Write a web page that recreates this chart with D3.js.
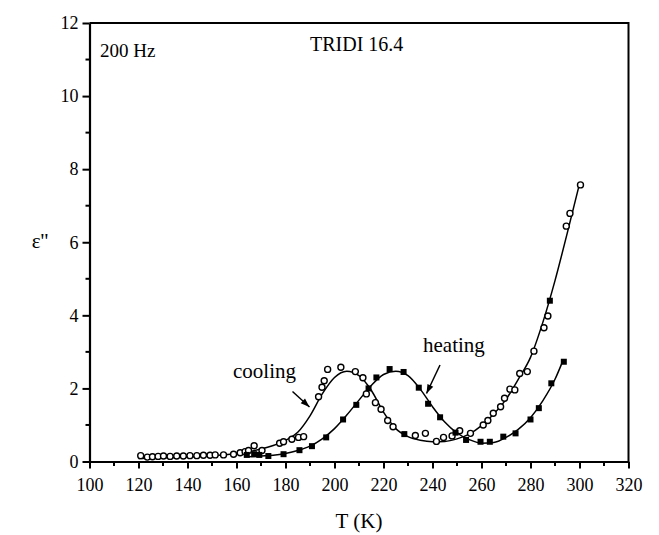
<!DOCTYPE html>
<html><head><meta charset="utf-8">
<script src="https://cdn.jsdelivr.net/npm/d3@7"></script>
<style>body{margin:0;background:#fff}svg{display:block}</style>
</head><body><svg id="c" width="659" height="535"></svg>
<script>
// ---- data ----
const coolingT = [120.9,123.6,125.7,128,130.2,132.9,135.6,138.3,141,143.8,146.5,149.2,151.3,154.7,158.8,161.5,163.5,164.9,167.2,170.4,177.6,179.2,182.6,185.3,187.4,193.5,194.9,195.8,197.2,202.6,208.5,211.6,213,216.7,219,221.7,223.9,233,237.1,241.6,244.5,248,251.1,255.5,260.7,262.6,264.8,267.8,269.4,271.6,273.6,275.6,278.7,281.4,285.5,287.1,294.6,296.1,300.4];
const coolingV = [0.16,0.12,0.13,0.14,0.15,0.14,0.15,0.15,0.16,0.16,0.17,0.17,0.18,0.18,0.2,0.24,0.27,0.3,0.43,0.3,0.5,0.54,0.61,0.66,0.68,1.77,2.03,2.21,2.52,2.58,2.46,2.29,1.85,1.61,1.43,1.12,0.95,0.71,0.77,0.55,0.66,0.7,0.84,0.77,1.0,1.12,1.32,1.5,1.73,1.98,1.96,2.41,2.46,3.02,3.66,3.98,6.44,6.79,7.57];
const heatingT = [164.2,167.2,169.3,173,179.2,185.7,190.8,196.6,203.5,208.9,213.9,217.1,222.5,228.2,234.4,238.2,243.1,249.4,253.7,259.6,263.4,268.9,273.9,280,283.4,288.5,293.6];
const heatingV = [0.18,0.2,0.18,0.15,0.2,0.31,0.42,0.66,1.15,1.55,2.0,2.3,2.53,2.45,2.02,1.58,1.21,0.79,0.59,0.54,0.54,0.68,0.77,1.15,1.46,2.14,2.73];
const extraSquareT = [228.5,287.9];
const extraSquareV = [0.75,4.4];
// fitted curves
const coolFitT = [120,130,140,150,160,165,170,175,180,185,190,195,200,205,210,215,220,225,230,235,240,245,250,255,260,265,270,275,280,285,290,295,300];
const coolFitV = [0.08,0.1,0.12,0.16,0.22,0.27,0.34,0.44,0.58,0.8,1.25,1.85,2.3,2.47,2.35,1.95,1.35,0.9,0.68,0.58,0.54,0.55,0.62,0.75,0.98,1.3,1.7,2.25,2.85,3.8,4.95,6.25,7.6];
const heatFitT = [165,170,175,180,185,190,195,200,205,210,215,220,225,230,235,240,245,250,255,260,265,270,275,280,285,290,293];
const heatFitV = [0.13,0.15,0.17,0.22,0.3,0.42,0.62,0.9,1.27,1.68,2.08,2.38,2.47,2.35,1.98,1.5,1.08,0.78,0.6,0.5,0.52,0.66,0.88,1.2,1.66,2.25,2.72];
const xTicks = [100,120,140,160,180,200,220,240,260,280,300,320];
const yTicks = [0,2,4,6,8,10,12];
const labels = {x:"T (K)", y:"ε''", freq:"200 Hz", sample:"TRIDI 16.4", cool:"cooling", heat:"heating"};

// ---- drawing ----
const FONT = "'Liberation Serif'";
const svg = d3.select("#c").style("font-family", FONT);
const x = d3.scaleLinear().domain([100,320]).range([89.5,628.5]);
const y = d3.scaleLinear().domain([0,12]).range([461.5,23]);

// minor ticks
const xMinor = d3.range(110,320,20), yMinor = d3.range(1,12,2);
svg.append("g").selectAll("line").data(xMinor).join("line")
  .attr("x1",d=>x(d)).attr("x2",d=>x(d)).attr("y1",y(0)).attr("y2",y(0)+4.5)
  .attr("stroke","#000").attr("stroke-width",2);
svg.append("g").selectAll("line").data(yMinor).join("line")
  .attr("y1",d=>y(d)).attr("y2",d=>y(d)).attr("x1",x(100)).attr("x2",x(100)-4)
  .attr("stroke","#000").attr("stroke-width",2);

const xa = svg.append("g").attr("transform",`translate(0,${y(0)})`)
  .call(d3.axisBottom(x).tickValues(xTicks).tickSize(7).tickSizeOuter(0).tickPadding(10));
const ya = svg.append("g").attr("transform",`translate(${x(100)},0)`)
  .call(d3.axisLeft(y).tickValues(yTicks).tickSize(7).tickSizeOuter(0).tickPadding(4));
[xa,ya].forEach(a=>{
  a.attr("font-family",null).attr("font-size",null);
  a.select(".domain").attr("stroke","#000").attr("stroke-width",2.2);
  a.selectAll(".tick line").attr("stroke","#000").attr("stroke-width",2);
  a.selectAll("text").style("font-family",FONT).style("font-size","18px").attr("fill","#000");
});
// frame top/right
svg.append("path").attr("d",`M${x(100)},${y(12)}H${x(320)}V${y(0)}`)
  .attr("fill","none").attr("stroke","#000").attr("stroke-width",2);

// fit lines
const line = d3.line().x(d=>x(d[0])).y(d=>y(d[1])).curve(d3.curveMonotoneX);
svg.append("path").datum(d3.zip(coolFitT,coolFitV)).attr("d",line)
  .attr("fill","none").attr("stroke","#000").attr("stroke-width",1.5);
svg.append("path").datum(d3.zip(heatFitT,heatFitV)).attr("d",line)
  .attr("fill","none").attr("stroke","#000").attr("stroke-width",1.5);

// points
svg.append("g").selectAll("circle").data(d3.zip(coolingT,coolingV)).join("circle")
  .attr("cx",d=>x(d[0])).attr("cy",d=>y(d[1])).attr("r",3)
  .attr("fill","#fff").attr("stroke","#000").attr("stroke-width",1.4);
const sq = 6;
svg.append("g").selectAll("rect").data(d3.zip(heatingT,heatingV).concat(d3.zip(extraSquareT,extraSquareV))).join("rect")
  .attr("x",d=>x(d[0])-sq/2).attr("y",d=>y(d[1])-sq/2).attr("width",sq).attr("height",sq)
  .attr("fill","#000");

// texts
function txt(xp,yp,size,s,anchor){
  return svg.append("text").attr("x",xp).attr("y",yp).attr("text-anchor",anchor||"start")
    .style("font-family",FONT).style("font-size",size+"px").attr("fill","#000").text(s);
}
txt(100,57,19,labels.freq);
txt(310,51,20,labels.sample);
txt(233,378,21,labels.cool);
txt(423,352,21,labels.heat);
txt(359,528,21,labels.x,"middle");
txt(40,248,21,labels.y,"middle");

// arrows
function arrow(x1,y1,x2,y2){
  svg.append("line").attr("x1",x1).attr("y1",y1).attr("x2",x2).attr("y2",y2).attr("stroke","#000").attr("stroke-width",1.5);
  const a=Math.atan2(y2-y1,x2-x1), L=9, w=3.2;
  const bx=x2-L*Math.cos(a), by=y2-L*Math.sin(a);
  svg.append("path").attr("d",`M${x2},${y2}L${bx-w*Math.sin(a)},${by+w*Math.cos(a)}L${bx+w*Math.sin(a)},${by-w*Math.cos(a)}Z`).attr("fill","#000");
}
arrow(292.5,391.5,309.5,407);
arrow(440,365,426.5,393.5);
</script></body></html>
